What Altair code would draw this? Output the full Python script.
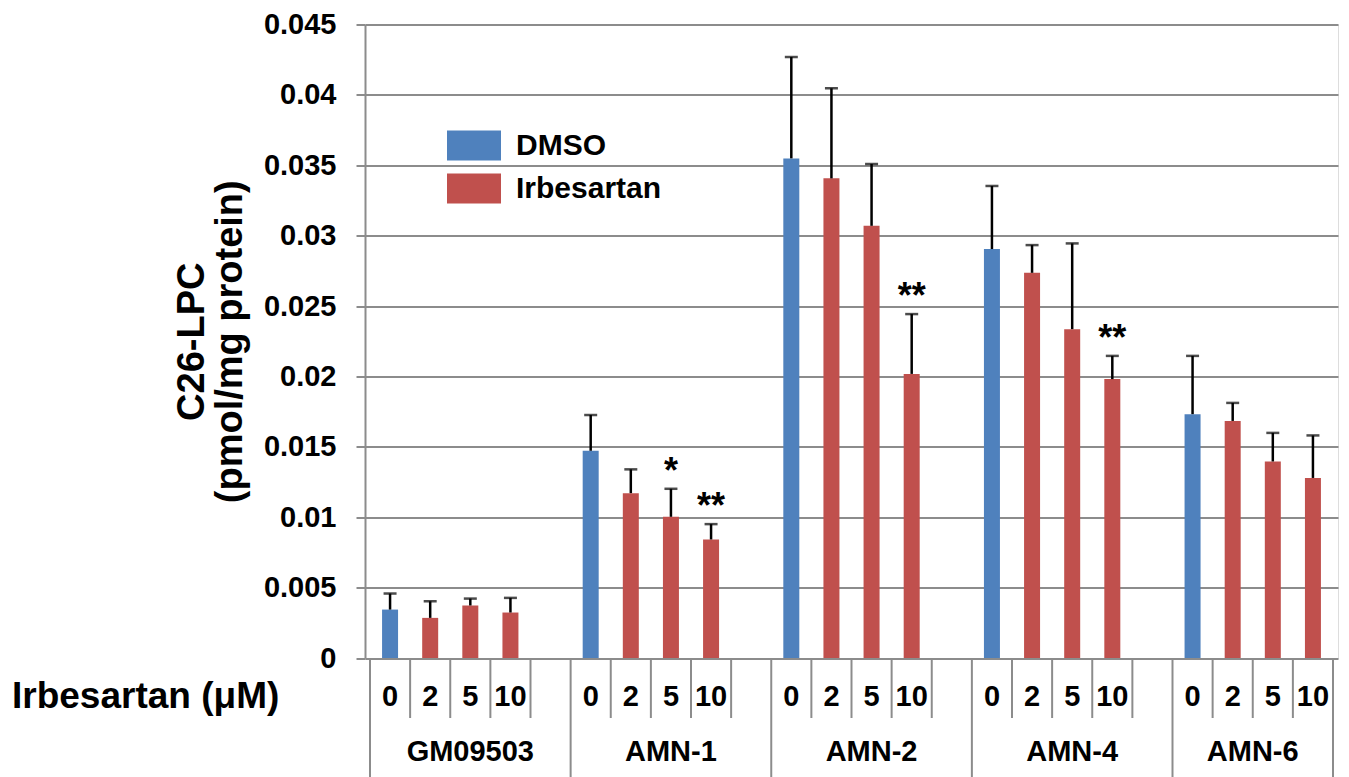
import altair as alt
import pandas as pd

groups = ["GM09503", "AMN-1", "AMN-2", "AMN-4", "AMN-6"]
doses = ["0", "2", "5", "10"]
treatments = ["DMSO", "Irbesartan", "Irbesartan", "Irbesartan"]

mean_gm = [0.00344, 0.00285, 0.00373, 0.00323]
mean_amn1 = [0.01472, 0.01171, 0.01003, 0.00842]
mean_amn2 = [0.03549, 0.03407, 0.03070, 0.02018]
mean_amn4 = [0.02905, 0.02736, 0.02336, 0.01981]
mean_amn6 = [0.01732, 0.01684, 0.01396, 0.01279]

err_gm = [0.00114, 0.00118, 0.00049, 0.00104]
err_amn1 = [0.00254, 0.00169, 0.00199, 0.00109]
err_amn2 = [0.00720, 0.00640, 0.00439, 0.00425]
err_amn4 = [0.00448, 0.00197, 0.00609, 0.00165]
err_amn6 = [0.00414, 0.00128, 0.00203, 0.00302]

stars_gm = ["", "", "", ""]
stars_amn1 = ["", "", "*", "**"]
stars_amn2 = ["", "", "", "**"]
stars_amn4 = ["", "", "", "**"]
stars_amn6 = ["", "", "", ""]

y_ticks = [0, 0.005, 0.01, 0.015, 0.02, 0.025, 0.03, 0.035, 0.04, 0.045]

means = [mean_gm, mean_amn1, mean_amn2, mean_amn4, mean_amn6]
errs = [err_gm, err_amn1, err_amn2, err_amn4, err_amn6]
stars = [stars_gm, stars_amn1, stars_amn2, stars_amn4, stars_amn6]

SLOTS_PER_GROUP = 5
n_slots = SLOTS_PER_GROUP * len(groups) - 1

rows = []
for gi, g in enumerate(groups):
    for di, d in enumerate(doses):
        m = means[gi][di]
        rows.append(dict(group=g, dose=d, pos=gi * SLOTS_PER_GROUP + di + 0.5,
                         mean=m, top=m + errs[gi][di], treat=treatments[di],
                         star=stars[gi][di]))
df = pd.DataFrame(rows)

group_bounds = [gi * SLOTS_PER_GROUP for gi in range(len(groups))] + [n_slots]
sep_rows = [dict(x=i, long=(i in group_bounds)) for i in range(n_slots + 1)]
sep_df = pd.DataFrame(sep_rows)
glabel_df = pd.DataFrame([dict(group=g, x=(group_bounds[i] + group_bounds[i + 1]) / 2)
                          for i, g in enumerate(groups)])

BLUE = "#4F81BD"
RED = "#C0504D"
GRID = "#8C8C8C"
FONT = "Liberation Sans"

W, H = 973, 633.5

xscale = alt.Scale(domain=[0, n_slots], nice=False, zero=False)
yscale = alt.Scale(domain=[0, 0.045], nice=False)

base = alt.Chart(df)

bars = base.mark_bar(size=16).encode(
    x=alt.X("pos:Q", scale=xscale, axis=None),
    y=alt.Y("mean:Q", scale=yscale,
            axis=alt.Axis(values=y_ticks, format="~g", title=["C26-LPC", "(pmol/mg protein)"],
                          grid=True, gridColor=GRID, gridWidth=2,
                          domainColor=GRID, domainWidth=2,
                          tickColor=GRID, tickWidth=2, tickSize=9,
                          labelFontSize=29, labelFontWeight="bold", labelColor="black",
                          labelPadding=20, labelFont=FONT,
                          titleFontSize=38, titleFontWeight="bold", titleColor="black",
                          titleFont=FONT, titleLineHeight=38, titlePadding=14)),
    color=alt.Color("treat:N",
                    scale=alt.Scale(domain=["DMSO", "Irbesartan"], range=[BLUE, RED]),
                    legend=alt.Legend(title=None, orient="none", legendX=82, legendY=94,
                                      symbolType="M-1,-0.56H1V0.56H-1Z", symbolSize=2916,
                                      symbolStrokeWidth=0, labelFontSize=30,
                                      labelFontWeight="bold", labelFont=FONT,
                                      labelColor="black", labelOffset=15,
                                      rowPadding=-11, padding=0)),
)

err_rule = base.mark_rule(color="black", strokeWidth=2.5).encode(
    x="pos:Q", y="mean:Q", y2="top:Q")

err_cap = base.mark_tick(orient="horizontal", size=13, thickness=2.5, color="black").encode(
    x="pos:Q", y="top:Q")

star_text = base.transform_filter("datum.star != ''").mark_text(
    fontSize=36, fontWeight="bold", font=FONT, baseline="alphabetic", dy=-6, color="black"
).encode(x="pos:Q", y="top:Q", text="star:N")

sep_short = alt.Chart(sep_df).transform_filter("!datum.long").mark_rule(
    color=GRID, strokeWidth=2).encode(
    x="x:Q", y=alt.value(H), y2=alt.value(H + 60))

sep_long = alt.Chart(sep_df).transform_filter("datum.long").mark_rule(
    color=GRID, strokeWidth=2).encode(
    x="x:Q", y=alt.value(H), y2=alt.value(H + 119))

dose_text = base.mark_text(fontSize=29, fontWeight="bold", font=FONT,
                           baseline="middle", color="black").encode(
    x="pos:Q", y=alt.value(H + 39), text="dose:N")

group_text = alt.Chart(glabel_df).mark_text(fontSize=29, fontWeight="bold", font=FONT,
                                            baseline="middle", color="black").encode(
    x="x:Q", y=alt.value(H + 94), text="group:N")

row_title = alt.Chart(pd.DataFrame({"t": ["Irbesartan (\u03bcM)"]})).mark_text(
    fontSize=37, fontWeight="bold", font=FONT, baseline="middle", align="left",
    color="black").encode(x=alt.value(-353), y=alt.value(H + 39), text="t:N")

chart = alt.layer(
    bars, err_rule, err_cap, star_text, sep_short, sep_long, dose_text, group_text, row_title
).properties(
    width=W, height=H,
    padding={"left": 365, "top": 24.5, "right": 11, "bottom": 119},
    autosize="none",
).configure_view(stroke=None).configure(background="white")

chart.save("out.html", embed_options={"renderer": "svg", "actions": False})
